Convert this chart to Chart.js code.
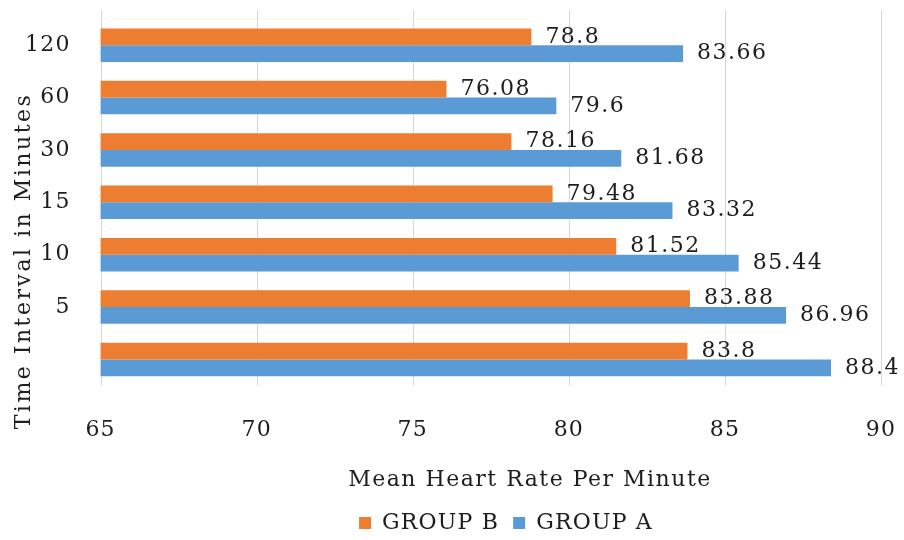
<!DOCTYPE html>
<html>
<head>
<meta charset="utf-8">
<script src="https://cdn.jsdelivr.net/npm/chart.js@4/dist/chart.umd.min.js"></script>
<style>
  html, body { margin: 0; padding: 0; background: #fff; }
  #wrap { width: 904px; height: 540px; }
</style>
</head>
<body>
<div id="wrap"><canvas id="c" width="904" height="540"></canvas></div>
<script>
// Time intervals (minutes), top to bottom
const intervals = ['120', '60', '30', '15', '10', '5', ''];
// Mean heart rate per minute for each group
const groupB = [78.8, 76.08, 78.16, 79.48, 81.52, 83.88, 83.8];
const groupA = [83.66, 79.6, 81.68, 83.32, 85.44, 86.96, 88.4];
// Value axis ticks
const xTicks = [65, 70, 75, 80, 85, 90];

const FONT = '"DejaVu Serif", "Liberation Serif", serif';
const SIZE = 22;
const INK = '#1e1e1e';
const GRID = '#d6d6d6';
const CLEAR = 'rgba(0,0,0,0)';

// Slightly wider letter spacing for all canvas text
const spacing = {
  id: 'spacing',
  beforeUpdate(chart) { chart.ctx.letterSpacing = '1.2px'; },
  beforeDraw(chart) { chart.ctx.letterSpacing = '1.2px'; }
};

// Vertical grid lines at each value tick, running a little above the first row
const gridLines = {
  id: 'gridLines',
  beforeDatasetsDraw(chart) {
    const ctx = chart.ctx, x = chart.scales.x, area = chart.chartArea;
    ctx.save();
    ctx.strokeStyle = GRID;
    ctx.lineWidth = 1;
    xTicks.forEach(v => {
      const px = Math.round(x.getPixelForValue(v)) + 0.5;
      ctx.beginPath();
      ctx.moveTo(px, area.top - 9);
      ctx.lineTo(px, area.bottom);
      ctx.stroke();
    });
    ctx.restore();
  }
};

// Writes each bar's value just past its end
const valueLabels = {
  id: 'valueLabels',
  afterDatasetsDraw(chart) {
    const ctx = chart.ctx;
    ctx.save();
    ctx.font = SIZE + 'px ' + FONT;
    ctx.letterSpacing = '1.5px';
    ctx.fillStyle = INK;
    ctx.textBaseline = 'middle';
    ctx.textAlign = 'left';
    chart.data.datasets.forEach((ds, di) => {
      const meta = chart.getDatasetMeta(di);
      meta.data.forEach((bar, i) => {
        ctx.fillText(String(ds.data[i]), bar.x + 14, bar.y);
      });
    });
    ctx.restore();
  }
};

// Axis titles
const axisTitles = {
  id: 'axisTitles',
  afterDraw(chart) {
    const ctx = chart.ctx;
    ctx.save();
    ctx.font = SIZE + 'px ' + FONT;
    ctx.fillStyle = INK;
    ctx.textAlign = 'center';
    ctx.textBaseline = 'middle';
    ctx.letterSpacing = '1.5px';
    ctx.fillText('Mean Heart Rate Per Minute', 530, 480);
    ctx.letterSpacing = '2.5px';
    ctx.translate(24, 261);
    ctx.rotate(-Math.PI / 2);
    ctx.fillText('Time Interval in Minutes', 0, 0);
    ctx.restore();
  }
};

// Place the legend row under the value axis title
const legendShift = {
  id: 'legendShift',
  afterLayout(chart) {
    const lg = chart.legend;
    const dx = 506 - (lg.left + lg.right) / 2;
    lg.left += dx;
    lg.right += dx;
    lg.top += 4;
    lg.bottom += 4;
  }
};

new Chart(document.getElementById('c'), {
  type: 'bar',
  data: {
    labels: intervals,
    datasets: [
      { label: 'GROUP B', data: groupB, backgroundColor: '#ED7D31',
        categoryPercentage: 0.64, barPercentage: 1.0 },
      { label: 'GROUP A', data: groupA, backgroundColor: '#5B9BD5',
        categoryPercentage: 0.64, barPercentage: 1.0 }
    ]
  },
  options: {
    indexAxis: 'y',
    responsive: false,
    animation: false,
    layout: { padding: { top: 19, right: 23, left: 25, bottom: 0 } },
    scales: {
      x: {
        min: 65, max: 90,
        afterBuildTicks(axis) { axis.ticks = xTicks.map(v => ({ value: v })); },
        afterFit(axis) { axis.height += 51; },
        grid: { display: false, drawTicks: true, tickLength: 31, tickColor: CLEAR },
        border: { display: false },
        ticks: { color: INK, font: { family: FONT, size: SIZE }, padding: 0, maxRotation: 0 }
      },
      y: {
        grid: { display: false, drawTicks: true, tickLength: 30, tickColor: CLEAR },
        border: { display: false },
        ticks: { color: INK, font: { family: FONT, size: SIZE, lineHeight: 0.8 }, padding: 0 }
      }
    },
    plugins: {
      legend: {
        position: 'bottom',
        labels: { color: INK, font: { family: FONT, size: SIZE, lineHeight: 0.8 },
                  boxWidth: 12, boxHeight: 12, padding: 14 }
      },
      tooltip: { enabled: false }
    }
  },
  plugins: [spacing, gridLines, valueLabels, axisTitles, legendShift]
});
</script>
</body>
</html>
